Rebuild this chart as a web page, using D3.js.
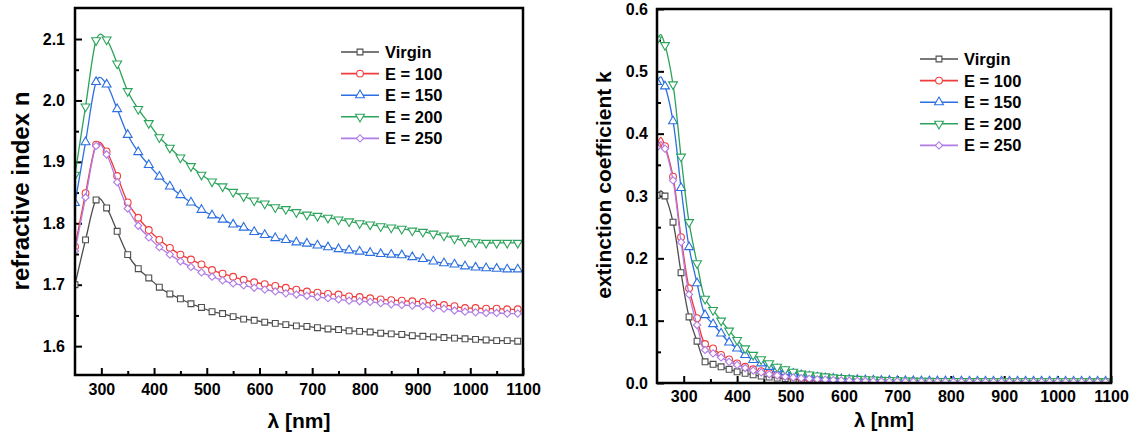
<!DOCTYPE html>
<html>
<head>
<meta charset="utf-8">
<script src="https://cdn.jsdelivr.net/npm/d3@7"></script>
<style>
  body { margin: 0; background: #fff; }
  svg { display: block; font-family: "Liberation Sans", Arial, sans-serif; font-weight: bold; }
</style>
</head>
<body>
<div id="container"></div>
<script>
// series info
const seriesNames = ["Virgin", "E = 100", "E = 150", "E = 200", "E = 250"];
const seriesColors = ["#4d4d4d", "#f03c3c", "#2b6fe0", "#2ba35a", "#b07ce6"];
const seriesSymbols = ["square", "circle", "triangleUp", "triangleDown", "diamond"];

// refractive index n, sampled every 20 nm
const nWave = d3.range(250, 1091, 20);
const nVirgin = [1.700, 1.773, 1.838, 1.825, 1.787, 1.749, 1.726, 1.711, 1.696, 1.685, 1.677, 1.669, 1.663, 1.656, 1.653,
  1.648, 1.644, 1.642, 1.639, 1.637, 1.635, 1.633, 1.632, 1.630, 1.628, 1.627, 1.625, 1.624, 1.623, 1.621,
  1.620, 1.619, 1.617, 1.616, 1.615, 1.614, 1.613, 1.612, 1.611, 1.610, 1.609, 1.609, 1.608];
const nE100 = [1.762, 1.849, 1.928, 1.917, 1.877, 1.834, 1.809, 1.789, 1.773, 1.760, 1.749, 1.741, 1.733, 1.724, 1.718,
  1.713, 1.708, 1.704, 1.701, 1.698, 1.695, 1.692, 1.689, 1.687, 1.685, 1.684, 1.681, 1.680, 1.678, 1.676,
  1.675, 1.674, 1.673, 1.672, 1.669, 1.667, 1.665, 1.662, 1.662, 1.661, 1.661, 1.660, 1.660];
const nE150 = [1.833, 1.932, 2.030, 2.026, 1.986, 1.944, 1.916, 1.895, 1.876, 1.860, 1.846, 1.834, 1.822, 1.813, 1.806,
  1.798, 1.793, 1.786, 1.781, 1.776, 1.773, 1.769, 1.767, 1.764, 1.761, 1.758, 1.756, 1.754, 1.752, 1.750,
  1.749, 1.748, 1.745, 1.742, 1.738, 1.735, 1.733, 1.730, 1.728, 1.727, 1.726, 1.725, 1.725];
const nE200 = [1.879, 1.990, 2.098, 2.099, 2.060, 2.015, 1.986, 1.963, 1.940, 1.923, 1.907, 1.893, 1.879, 1.868, 1.860,
  1.851, 1.844, 1.837, 1.832, 1.826, 1.823, 1.818, 1.814, 1.812, 1.809, 1.806, 1.803, 1.800, 1.798, 1.795,
  1.793, 1.791, 1.788, 1.786, 1.783, 1.780, 1.775, 1.771, 1.769, 1.768, 1.768, 1.768, 1.768];
const nE250 = [1.755, 1.842, 1.926, 1.912, 1.867, 1.824, 1.796, 1.777, 1.761, 1.749, 1.738, 1.729, 1.720, 1.713, 1.707,
  1.702, 1.699, 1.695, 1.692, 1.689, 1.686, 1.684, 1.682, 1.680, 1.678, 1.676, 1.674, 1.673, 1.672, 1.670,
  1.668, 1.667, 1.666, 1.665, 1.662, 1.661, 1.658, 1.656, 1.655, 1.654, 1.654, 1.653, 1.653];

// extinction coefficient k, every 15 nm (plus the small peak near 257 nm)
const kWave = [250, 257, ...d3.range(265, 1091, 15)];
const kVirgin = [0.301, 0.308, 0.300, 0.258, 0.177, 0.106, 0.067, 0.034, 0.030, 0.026, 0.022, 0.018, 0.0155, 0.013,
  0.011, 0.0095, 0.008, 0.007, 0.006, 0.005, 0.0045, 0.004, 0.0035, 0.003, 0.0028, 0.0025, 0.0023, 0.0021,
  0.0020, 0.0020, 0.0019, 0.0019, 0.0018, 0.0018, 0.0018, 0.0017, 0.0017, 0.0017, 0.0016, 0.0016, 0.0016, 0.0016,
  0.0015, 0.0015, 0.0015, 0.0015, 0.0015, 0.0015, 0.0014, 0.0014, 0.0014, 0.0014, 0.0014, 0.0014, 0.0014, 0.0014,
  0.0014, 0.0014];
const kE100 = [0.381, 0.394, 0.380, 0.331, 0.234, 0.152, 0.104, 0.0625, 0.0555, 0.045, 0.038, 0.0315, 0.026, 0.022,
  0.019, 0.016, 0.0135, 0.0115, 0.010, 0.0085, 0.0075, 0.0065, 0.0058, 0.0052, 0.0046, 0.0041, 0.0037, 0.0034,
  0.0031, 0.0029, 0.0027, 0.0026, 0.0025, 0.0024, 0.0023, 0.0023, 0.0022, 0.0022, 0.0021, 0.0021, 0.0021, 0.0020,
  0.0020, 0.0020, 0.0020, 0.0020, 0.0019, 0.0019, 0.0019, 0.0019, 0.0019, 0.0019, 0.0018, 0.0018, 0.0018, 0.0018,
  0.0018, 0.0018];
const kE150 = [0.483, 0.491, 0.476, 0.420, 0.313, 0.218, 0.160, 0.109, 0.0945, 0.0795, 0.065, 0.0555, 0.045, 0.037,
  0.0315, 0.026, 0.022, 0.018, 0.015, 0.0125, 0.0105, 0.009, 0.0078, 0.0068, 0.006, 0.0053, 0.0048, 0.0044,
  0.0041, 0.0038, 0.0036, 0.0034, 0.0032, 0.0031, 0.0030, 0.0029, 0.0028, 0.0028, 0.0027, 0.0027, 0.0026, 0.0026,
  0.0026, 0.0025, 0.0025, 0.0025, 0.0025, 0.0024, 0.0024, 0.0024, 0.0024, 0.0024, 0.0023, 0.0023, 0.0023, 0.0023,
  0.0023, 0.0023];
const kE200 = [0.551, 0.559, 0.542, 0.479, 0.363, 0.258, 0.192, 0.135, 0.117, 0.100, 0.084, 0.069, 0.0555, 0.045,
  0.038, 0.0315, 0.026, 0.022, 0.018, 0.015, 0.0135, 0.012, 0.0105, 0.009, 0.008, 0.0073, 0.0065, 0.006,
  0.0055, 0.005, 0.0046, 0.0042, 0.0039, 0.0037, 0.0035, 0.0033, 0.0032, 0.0031, 0.0030, 0.0030, 0.0029, 0.0029,
  0.0028, 0.0028, 0.0028, 0.0027, 0.0027, 0.0027, 0.0027, 0.0026, 0.0026, 0.0026, 0.0026, 0.0026, 0.0026, 0.0025,
  0.0025, 0.0025];
const kE250 = [0.378, 0.387, 0.376, 0.325, 0.226, 0.142, 0.093, 0.053, 0.0475, 0.041, 0.034, 0.029, 0.024, 0.020,
  0.017, 0.014, 0.012, 0.010, 0.009, 0.0078, 0.0068, 0.006, 0.0053, 0.0047, 0.0042, 0.0038, 0.0035, 0.0032,
  0.0030, 0.0028, 0.0026, 0.0025, 0.0024, 0.0023, 0.0022, 0.0022, 0.0021, 0.0021, 0.0020, 0.0020, 0.0020, 0.0019,
  0.0019, 0.0019, 0.0019, 0.0019, 0.0018, 0.0018, 0.0018, 0.0018, 0.0018, 0.0018, 0.0017, 0.0017, 0.0017, 0.0017,
  0.0017, 0.0017];

// ticks
const xTicks = [300, 400, 500, 600, 700, 800, 900, 1000, 1100];
const xMinor = [350, 450, 550, 650, 750, 850, 950, 1050];
const nTicks = [1.6, 1.7, 1.8, 1.9, 2.0, 2.1];
const nMinor = [1.65, 1.75, 1.85, 1.95, 2.05];
const kTicks = [0, 0.1, 0.2, 0.3, 0.4, 0.5, 0.6];
const kMinor = [0.05, 0.15, 0.25, 0.35, 0.45, 0.55];

const W = 1142, H = 443;
const svg = d3.select("#container").append("svg").attr("width", W).attr("height", H);

function symbolPath(name, size) {
  const map = {
    square: d3.symbolSquare, circle: d3.symbolCircle,
    triangleUp: d3.symbolTriangle, triangleDown: d3.symbolTriangle, diamond: d3.symbolSquare
  };
  return d3.symbol().type(map[name]).size(size)();
}
function symbolRotate(name) {
  if (name === "triangleDown") return 180;
  if (name === "diamond") return 45;
  return 0;
}
const symbolSize = { square: 34, circle: 36, triangleUp: 34, triangleDown: 34, diamond: 26 };

function drawPanel(p) {
  const g = svg.append("g");
  const x = d3.scaleLinear().domain(p.xDomain).range(p.xRange);
  const y = d3.scaleLinear().domain(p.yDomain).range(p.yRange);
  const [x0, x1] = p.xRange, [y0, y1] = p.yRange;

  // clip to frame
  const clipId = "clip-" + p.id;
  g.append("clipPath").attr("id", clipId)
    .append("rect").attr("x", x0).attr("y", y1).attr("width", x1 - x0).attr("height", y0 - y1);

  // x axis (ticks inward)
  g.append("g").attr("transform", `translate(0,${y0})`)
    .call(d3.axisBottom(x).tickValues(xTicks).tickSize(-7).tickPadding(p.xPad).tickFormat(d3.format("d")));
  g.append("g").attr("transform", `translate(0,${y0})`)
    .call(d3.axisBottom(x).tickValues(xMinor).tickSize(-4).tickFormat(""));
  // y axis
  g.append("g").attr("transform", `translate(${x0},0)`)
    .call(d3.axisLeft(y).tickValues(p.yTicks).tickSize(-7).tickPadding(p.yPad).tickFormat(d3.format(".1f")));
  g.append("g").attr("transform", `translate(${x0},0)`)
    .call(d3.axisLeft(y).tickValues(p.yMinor).tickSize(-4).tickFormat(""));

  g.selectAll(".domain").remove();
  g.selectAll(".tick line").attr("stroke", "#000").attr("stroke-width", 2);
  g.selectAll(".tick text").attr("fill", "#000").style("font-size", "16px").style("font-weight", "bold")
    .style("font-family", '"Liberation Sans", Arial, sans-serif');

  // series
  const line = d3.line().x(d => x(d[0])).y(d => y(d[1])).curve(d3.curveCatmullRom.alpha(p.alpha));
  const plot = g.append("g").attr("clip-path", `url(#${clipId})`);
  p.series.forEach((vals, i) => {
    const pts = p.wave.map((w, j) => [w, vals[j]]);
    plot.append("path").datum(pts)
      .attr("fill", "none").attr("stroke", seriesColors[i]).attr("stroke-width", 1.3)
      .attr("d", line);
    const sym = seriesSymbols[i];
    plot.selectAll(null).data(pts.filter(p.markerFilter)).enter().append("path")
      .attr("d", symbolPath(sym, symbolSize[sym]))
      .attr("transform", d => `translate(${x(d[0])},${y(d[1])}) rotate(${symbolRotate(sym)})`)
      .attr("fill", "#fff").attr("stroke", seriesColors[i]).attr("stroke-width", 1.1);
  });

  // frame
  g.append("rect").attr("x", x0).attr("y", y1).attr("width", x1 - x0).attr("height", y0 - y1)
    .attr("fill", "none").attr("stroke", "#000").attr("stroke-width", 2.5);

  // axis titles
  g.append("text").attr("x", (x0 + x1) / 2).attr("y", p.xTitleY).attr("text-anchor", "middle")
    .style("font-size", p.xTitleSize).text("λ [nm]");
  g.append("text").attr("transform", `translate(${p.yTitleX},${p.yTitleCY}) rotate(-90)`)
    .attr("text-anchor", "middle").style("font-size", p.yTitleSize).text(p.yTitle);

  // legend
  const lg = g.append("g").attr("transform", `translate(${p.legend[0]},${p.legend[1]})`);
  seriesNames.forEach((name, i) => {
    const row = lg.append("g").attr("transform", `translate(0,${i * 21.6})`);
    row.append("line").attr("x1", 0).attr("x2", 38).attr("y1", 0).attr("y2", 0)
      .attr("stroke", seriesColors[i]).attr("stroke-width", 1.6);
    const sym = seriesSymbols[i];
    row.append("path").attr("d", symbolPath(sym, symbolSize[sym]))
      .attr("transform", `translate(19,0) rotate(${symbolRotate(sym)})`)
      .attr("fill", "#fff").attr("stroke", seriesColors[i]).attr("stroke-width", 1.1);
    row.append("text").attr("x", 44).attr("y", 6).style("font-size", "16.5px").text(name);
  });
}

drawPanel({
  id: "n", xDomain: [250, 1100], xRange: [75, 523],
  yDomain: [1.553, 2.1505], yRange: [375, 8],
  yTicks: nTicks, yMinor: nMinor, xPad: 9, yPad: 10, alpha: 0,
  wave: nWave, series: [nVirgin, nE100, nE150, nE200, nE250],
  markerFilter: () => true,
  xTitleY: 428, xTitleSize: "21px",
  yTitle: "refractive index n", yTitleX: 29, yTitleCY: 191, yTitleSize: "24px",
  legend: [341, 52]
});

drawPanel({
  id: "k", xDomain: [250, 1100], xRange: [657, 1111],
  yDomain: [0, 0.6], yRange: [383, 9],
  yTicks: kTicks, yMinor: kMinor, xPad: 8, yPad: 9, alpha: 0.5,
  wave: kWave, series: [kVirgin, kE100, kE150, kE200, kE250],
  markerFilter: d => (d[0] - 250) % 15 === 0,
  xTitleY: 427, xTitleSize: "20px",
  yTitle: "extinction coefficient k", yTitleX: 611, yTitleCY: 185, yTitleSize: "21px",
  legend: [920, 59]
});
</script>
</body>
</html>
